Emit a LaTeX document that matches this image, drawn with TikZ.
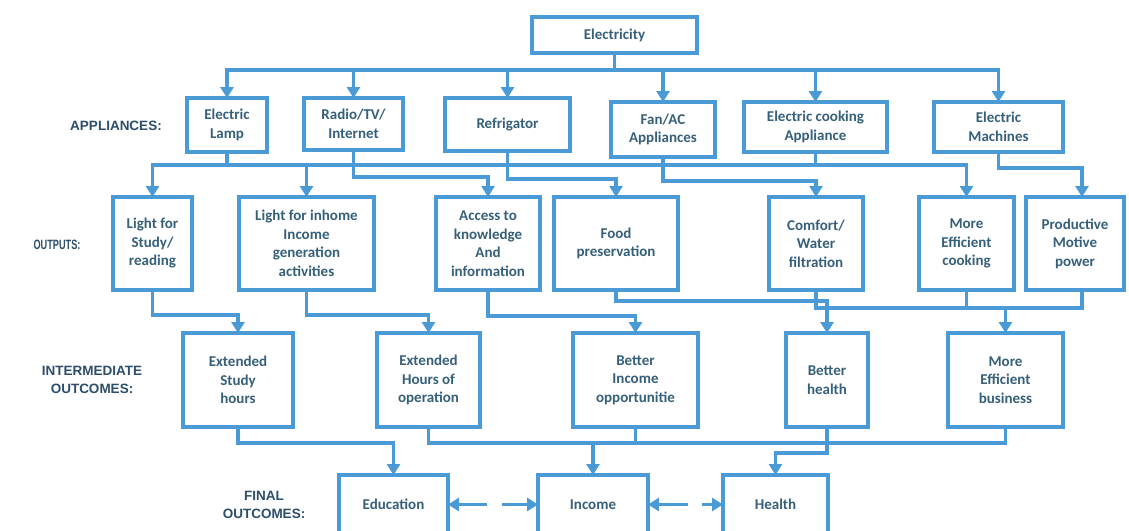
\documentclass[tikz,border=0pt]{standalone}
\usepackage{fontspec}
\setmainfont{Carlito}
\newfontfamily\labfont{Liberation Sans}
\usetikzlibrary{arrows.meta}
\definecolor{lineblue}{HTML}{4A9AD6}
\definecolor{txtc}{HTML}{36607A}
\definecolor{labc}{HTML}{2C4E6A}
\begin{document}
\begin{tikzpicture}[x=1pt,y=-1pt,
  box/.style={draw=lineblue, line width=3.1pt, fill=white, inner sep=0pt, outer sep=0pt,
    align=center, text=txtc, font=\fontsize{15}{18.5}\selectfont\bfseries},
  conn/.style={draw=lineblue, line width=3.1pt},
  arr/.style={conn, -{Triangle[width=13pt,length=11pt]}},
  lab/.style={text=labc, align=center, font=\labfont\fontsize{13.5}{17.5}\selectfont\bfseries}]
\fill[white] (0,0) rectangle (1129,530);
\useasboundingbox (0,0) rectangle (1129,530);

% top
\node[box, minimum width=165pt, minimum height=36pt] (elec) at (614.5,35) {Electricity};

% appliances
\node[box, minimum width=80pt, minimum height=54pt] (lamp) at (227,125) {Electric\\Lamp};
\node[box, minimum width=99pt, minimum height=52pt] (radio) at (353.5,124) {Radio/TV/\\Internet};
\node[box, minimum width=125pt, minimum height=53pt] (refrig) at (507.5,124.5) {Refrigator};
\node[box, minimum width=104pt, minimum height=55pt] (fanac) at (663,129.5) {Fan/AC\\Appliances};
\node[box, minimum width=143pt, minimum height=50pt] (cooking) at (815.5,127) {Electric cooking\\Appliance};
\node[box, minimum width=129pt, minimum height=50pt] (machines) at (998.5,127) {Electric\\Machines};

% outputs
\node[box, minimum width=79pt, minimum height=93pt] (study) at (152.5,243.5) {Light for\\Study/\\reading};
\node[box, minimum width=135pt, minimum height=93pt] (inhome) at (306.5,243.5) {Light for inhome\\Income\\generation\\activities};
\node[box, minimum width=104pt, minimum height=93pt] (access) at (488,243.5) {Access to\\knowledge\\And\\information};
\node[box, minimum width=124pt, minimum height=93pt] (food) at (616,243.5) {Food\\preservation};
\node[box, minimum width=94pt, minimum height=93pt] (comfort) at (816,243.5) {Comfort/\\Water\\filtration};
\node[box, minimum width=95pt, minimum height=93pt] (effcook) at (966.5,243.5) {More\\Efficient\\cooking};
\node[box, minimum width=98pt, minimum height=93pt] (prod) at (1075,243.5) {Productive\\Motive\\power};

% intermediate
\node[box, minimum width=110pt, minimum height=94pt] (extstudy) at (238,380) {Extended\\Study\\hours};
\node[box, minimum width=103pt, minimum height=94pt] (exthours) at (428.5,380) {Extended\\Hours of\\operation};
\node[box, minimum width=125pt, minimum height=94pt] (betinc) at (635.5,380) {Better\\Income\\opportunitie};
\node[box, minimum width=82pt, minimum height=94pt] (bethealth) at (827,380) {Better\\health};
\node[box, minimum width=115pt, minimum height=94pt] (effbiz) at (1005.5,380) {More\\Efficient\\business};

% final
\node[box, minimum width=109pt, minimum height=59pt] (edu) at (393.5,504.5) {Education};
\node[box, minimum width=110pt, minimum height=59pt] (income) at (593,504.5) {Income};
\node[box, minimum width=105pt, minimum height=59pt] (health) at (775.5,504.5) {Health};

% row labels
\node[lab] (l1) at (116,126) {APPLIANCES:};
\node[lab] (l2) at (57,245) {\scalebox{0.68}[1]{\fontsize{13.5}{15}\selectfont OUTPUTS:}};
\node[lab] (l3) at (92,380) {INTERMEDIATE\\OUTCOMES:};
\node[lab] (l4) at (264,505) {FINAL\\OUTCOMES:};

% electricity -> appliances
\coordinate (topbus) at (614.5,70);
\draw[conn] (elec.south) -- (topbus);
\foreach \n in {lamp,radio,refrig,fanac,cooking,machines}
  \draw[arr] (topbus) -| (\n.north);

% appliances -> outputs
\coordinate (lampbus) at (227,165);
\coordinate (cookbus) at (815.5,165);
\draw[conn] (lamp.south) -- (lampbus);
\draw[arr] (lampbus) -| (study.north);
\draw[arr] (lampbus) -| (inhome.north);
\draw[conn] (lampbus) -- (cookbus);
\draw[arr] (cooking.south) -- (cookbus) -| (effcook.north);
\draw[arr] (radio.south) -- ++(0,27) -| (access.north);
\draw[arr] (refrig.south) -- ++(0,28) -| (food.north);
\draw[arr] (fanac.south) -- ++(0,24) -| (comfort.north);
\draw[arr] (machines.south) -- ++(0,16) -| ([xshift=7pt]prod.north);

% outputs -> intermediate
\draw[arr] (study.south) -- ++(0,25) -| (extstudy.north);
\draw[arr] (inhome.south) -- ++(0,25) -| (exthours.north);
\draw[arr] (access.south) -- ++(0,26) -| (betinc.north);
\draw[arr] (food.south) -- ++(0,11) -| (bethealth.north);
\coordinate (bus3) at (1082,308);
\draw[conn] (comfort.south) |- (bus3) -- ([xshift=7pt]prod.south);
\draw[conn] (effcook.south) -- (effcook.south |- bus3);
\draw[arr] (effbiz.north |- bus3) -- (effbiz.north);

% intermediate -> final
\coordinate (bus4) at (1005.5,443);
\draw[arr] (extstudy.south) -- ++(0,16) -| (edu.north);
\draw[conn] (exthours.south) |- (bus4) -- (effbiz.south);
\draw[conn] (betinc.south) -- (betinc.south |- bus4);
\draw[arr] (income.north |- bus4) -- (income.north);
\draw[arr] (bethealth.south) -- ++(0,26) -| (health.north);

% mutual arrows between final outcomes
\coordinate (ei1) at (487,504.5);
\coordinate (ei2) at (502,504.5);
\coordinate (ih1) at (688,504.5);
\coordinate (ih2) at (702,504.5);
\draw[arr] (ei1) -- (edu.east);
\draw[arr] (ei2) -- (income.west);
\draw[arr] (ih1) -- (income.east);
\draw[arr] (ih2) -- (health.west);
\end{tikzpicture}
\end{document}
